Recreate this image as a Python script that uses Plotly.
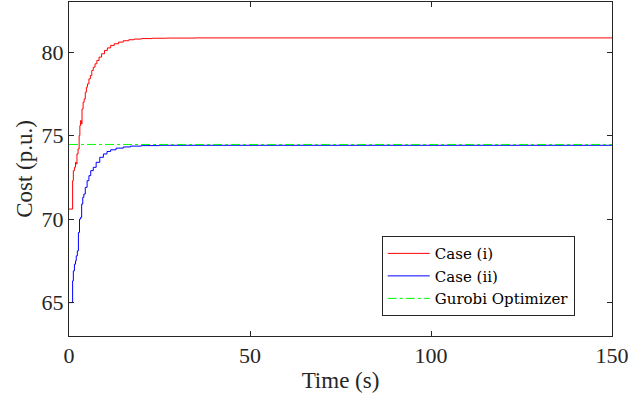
import plotly.graph_objects as go

# Case (i) - red
t_case1 = [0, 1.0, 1.0, 1.2, 1.5, 1.8, 2.0, 2.2, 2.5, 2.8, 3.0, 3.2, 3.4, 3.6, 3.9,
           4.2, 4.5, 4.8, 5.1, 5.5, 5.9, 6.3, 6.7, 7.2, 7.7, 8.3, 9.0, 9.8, 10.6,
           11.5, 12.5, 13.7, 15.0, 16.5, 18.0, 20.0, 23.0, 27.0, 35.0, 150]
v_case1 = [70.6, 70.6, 72.3, 72.9, 73.1, 73.4, 73.3, 73.9, 74.2, 75.0, 75.6, 75.9, 75.7,
           76.6, 77.0, 77.2, 77.6, 77.9, 78.1, 78.4, 78.6, 78.9, 79.1, 79.3, 79.5,
           79.7, 79.9, 80.1, 80.25, 80.4, 80.5, 80.6, 80.68, 80.74, 80.78, 80.81,
           80.83, 80.84, 80.85, 80.85]

# Case (ii) - blue
t_case2 = [0, 1.0, 1.0, 1.2, 1.5, 1.8, 2.0, 2.3, 2.6, 2.9, 3.2, 3.5, 3.8, 4.1, 4.5,
           5.0, 5.5, 6.0, 6.7, 7.5, 8.5, 9.5, 10.5, 11.5, 13.0, 15.0, 17.0, 20.0,
           25.0, 150]
v_case2 = [65.0, 65.0, 66.3, 66.9, 67.3, 67.5, 67.8, 68.1, 69.2, 70.0, 70.1, 70.9,
           71.3, 71.5, 71.9, 72.3, 72.6, 72.9, 73.1, 73.4, 73.7, 73.9, 74.05,
           74.15, 74.25, 74.32, 74.37, 74.4, 74.42, 74.42]

# Gurobi optimum
t_gurobi = [0, 150]
v_gurobi = [74.47, 74.47]

x_ticks = [0, 50, 100, 150]
y_ticks = [65, 70, 75, 80]

font_family = "Liberation Serif, DejaVu Serif, serif"

fig = go.Figure()
fig.add_trace(go.Scatter(x=t_case1, y=v_case1, mode="lines", name="Case (i)",
                         line=dict(color="rgb(255,0,0)", width=1, shape="hv")))
fig.add_trace(go.Scatter(x=t_case2, y=v_case2, mode="lines", name="Case (ii)",
                         line=dict(color="rgb(0,0,255)", width=1, shape="hv")))
fig.add_trace(go.Scatter(x=t_gurobi, y=v_gurobi, mode="lines", name="Gurobi Optimizer",
                         line=dict(color="rgb(0,255,0)", width=1, dash="dashdot")))

axis_common = dict(showline=True, linecolor="#262626", linewidth=1, mirror="ticks",
                   ticks="inside", ticklen=5, tickcolor="#262626", showgrid=False,
                   zeroline=False, tickfont=dict(family=font_family, size=22, color="#262626"))

fig.update_xaxes(range=[0, 150], tickvals=x_ticks,
                 title=dict(text="Time (s)", font=dict(family=font_family, size=23, color="#262626"),
                            standoff=4),
                 **axis_common)
fig.update_yaxes(range=[63, 83], tickvals=y_ticks,
                 title=dict(text="Cost (p.u.)", font=dict(family=font_family, size=23, color="#262626"),
                            standoff=2),
                 **axis_common)

fig.update_layout(
    width=642, height=396,
    margin=dict(l=69, r=30, t=2, b=60, autoexpand=False),
    paper_bgcolor="white", plot_bgcolor="white",
    showlegend=True,
    legend=dict(x=0.576, y=0.299, xanchor="left", yanchor="top",
                bgcolor="white", bordercolor="#262626", borderwidth=1,
                font=dict(family="DejaVu Serif, serif", size=15, color="black"),
                tracegroupgap=0, itemwidth=42),
)

fig.write_html("out.html", config={"displayModeBar": False},
               post_script="document.body.style.margin='0';")
